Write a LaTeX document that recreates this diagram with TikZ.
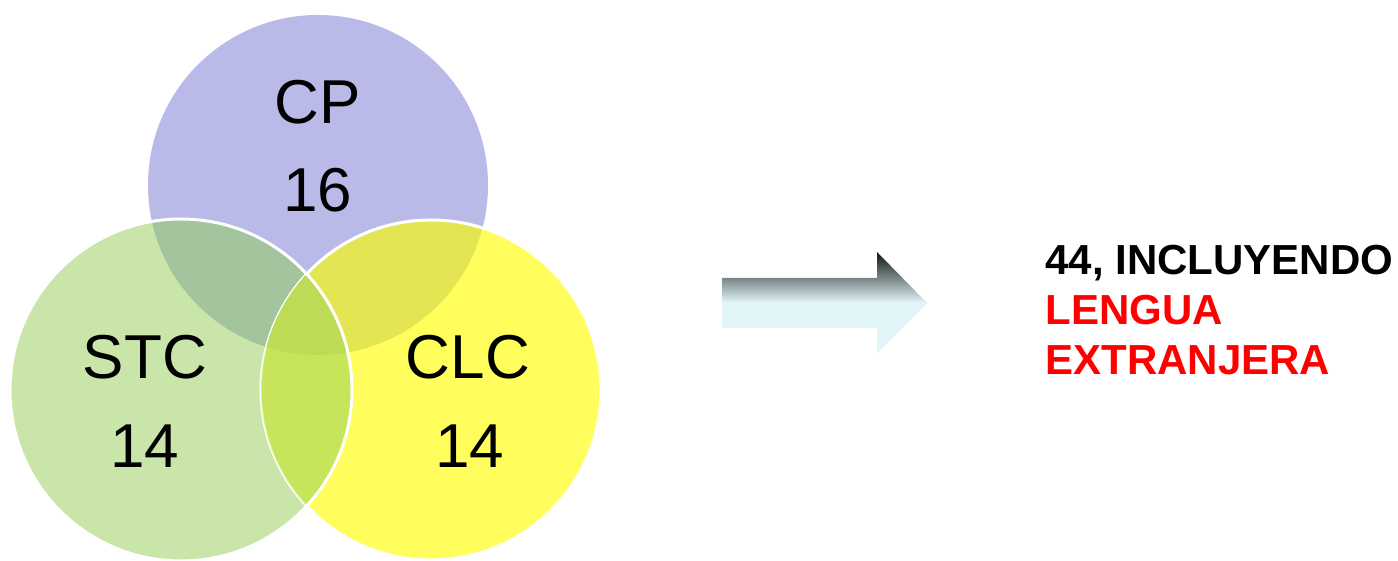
\documentclass[tikz,border=0pt]{standalone}
\usepackage{fontspec}
\setmainfont{Liberation Sans}

\definecolor{cpcol}{HTML}{B9BAE8}
\definecolor{stccol}{HTML}{C9E5AA}
\definecolor{clccol}{HTML}{FFFE5C}
\definecolor{cpstccol}{HTML}{A3C49C}
\definecolor{cpclccol}{HTML}{E3E552}
\definecolor{stcclccol}{HTML}{C6E55A}
\definecolor{allcol}{HTML}{BDDB54}
\definecolor{arrowlight}{HTML}{E2F5F7}
\definecolor{arrowgray}{HTML}{7A8787}
\definecolor{arrowdark}{HTML}{101515}

\pgfdeclareverticalshading{arrowshade}{100bp}{color(0bp)=(arrowlight); color(50bp)=(arrowlight); color(62bp)=(arrowgray); color(75bp)=(arrowdark); color(100bp)=(arrowdark)}

\begin{document}
\begin{tikzpicture}[x=0.5pt,y=0.5pt]

      \useasboundingbox (0,0) rectangle (1398,561);

      \def\cpcirc{(318,376) circle (170)}
      \def\stccirc{(181,171) circle (171)}
      \def\clccirc{(431,171) circle (170)}

      % the three sets
      \fill[cpcol]  \cpcirc;
      \fill[stccol] \stccirc;
      \fill[clccol] \clccirc;

      \begin{scope}
        \clip \cpcirc;
        \fill[cpstccol] \stccirc;
        \fill[cpclccol] \clccirc;
      \end{scope}

      \draw[white,line width=1.5pt] \clccirc;

      \begin{scope}
        \clip \stccirc;
        \fill[stcclccol] \clccirc;
        \draw[white,opacity=.3,line width=1pt] \clccirc;
        \clip \cpcirc;
        \fill[allcol] \clccirc;
      \end{scope}

      \draw[white,line width=1.5pt] \stccirc;

      \begin{scope}[every node/.style={font=\fontsize{31}{31}\selectfont}]
        \node (cp)     at (318,459) {CP};
        \node (cpn)    at (318,371) {16};
        \node (stc)    at (145,204) {STC};
        \node (stcn)   at (145,115) {14};
        \node (clc)    at (468,204) {CLC};
        \node (clcn)   at (470,115) {14};
      \end{scope}

      % arrow
      \path[shading=arrowshade] (722,283) -- (877,283) -- (877,309) -- (927,258)
        -- (877,208) -- (877,233) -- (722,233) -- cycle;

      \begin{scope}[every node/.style={anchor=base west,inner sep=0pt,font=\fontsize{21}{21}\selectfont\bfseries}]
        \node (total)  at (1045,286) {44, INCLUYENDO};
        \node[red] (lengua) at (1045,236) {LENGUA};
        \node[red] (extra)  at (1045,186) {EXTRANJERA};
      \end{scope}

    \end{tikzpicture}
\end{document}
